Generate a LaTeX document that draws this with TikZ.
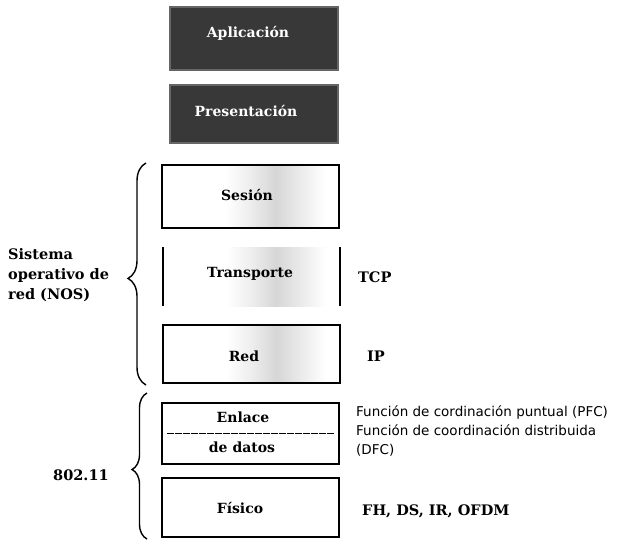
\documentclass[tikz,border=0pt]{standalone}
\usepackage{fontspec}
\setmainfont{DejaVu Serif}
\newfontfamily\labsans{DejaVu Sans}
\usetikzlibrary{decorations.pathreplacing}
\pgfdeclarehorizontalshading{stip}{100bp}{color(0bp)=(white); color(43bp)=(white); color(50bp)=(black!7); color(57bp)=(black!16); color(64bp)=(black!8); color(71bp)=(white); color(100bp)=(white)}
\tikzset{
  darkbox/.style={draw=black!60, line width=1.2pt, fill=black!78},
  layerbox/.style={draw=black, line width=1.4pt, shading=stip},
  layertxt/.style={font=\bfseries\fontsize{14}{16}\selectfont, inner sep=0pt, anchor=base},
  darktxt/.style={layertxt, text=white},
  sidetxt/.style={font=\bfseries\fontsize{14.5}{20}\selectfont, anchor=base west, inner sep=0pt},
  sanstxt/.style={font=\labsans\fontsize{13.5}{19}\selectfont, anchor=base west, align=left, inner sep=0pt},
  bracestyle/.style={draw=black, line width=1.4pt, decorate},
}
\begin{document}
\begin{tikzpicture}[x=1pt,y=-1pt]
\useasboundingbox (0,0) rectangle (617,540);
% dark boxes
\draw[darkbox] (170,7) rectangle (338,70);
\node[darktxt] (apl) at (248,38) {Aplicación};
\draw[darkbox] (170,85) rectangle (338,143);
\node[darktxt] (pres) at (246,117) {Presentación};
% Sesion
\shade[layerbox] (162,165) rectangle (339,228);
\node[layertxt] (ses) at (247,200) {Sesión};
% Transporte (vertical sides only)
\shade[shading=stip] (163,247) rectangle (340,306);
\draw[line width=1.4pt] (163,247) -- (163,306);
\draw[line width=1.4pt] (340,247) -- (340,306);
\node[layertxt] (tra) at (250,277) {Transporte};
% Red
\shade[layerbox] (163,325) rectangle (340,383);
\node[layertxt] (red) at (244,361) {Red};
% Enlace
\draw[line width=1.4pt, fill=white] (162,403) rectangle (339,464);
\draw[line width=1pt, dash pattern=on 7pt off 1pt] (167,433) -- (334,433);
\node[layertxt] (enl) at (243,422) {Enlace};
\node[layertxt] (dat) at (242,452) {de datos};
% Fisico
\draw[line width=1.4pt, fill=white] (162,478) rectangle (339,537);
\node[layertxt] (fis) at (240,513) {Físico};
% braces
\draw[bracestyle, decoration={brace, amplitude=18pt, aspect=0.48}] (146,385) -- (146,163);
\draw[bracestyle, decoration={brace, amplitude=15pt, aspect=0.476}] (147,539) -- (147,393);
% side labels
\node[sidetxt, align=left, anchor=north west] (nos) at (8,248) {Sistema\\operativo de\\red (NOS)};
\node[sidetxt] (w80211) at (53,480) {802.11};
\node[sidetxt] (tcp) at (358,282) {TCP};
\node[sidetxt] (ip) at (367,361) {IP};
\node[sanstxt, anchor=north west] (func) at (356,405) {Función de cordinación puntual (PFC)\\Función de coordinación distribuida\\(DFC)};
\node[sidetxt] (fh) at (362,515) {FH, DS, IR, OFDM};
\end{tikzpicture}
\end{document}
